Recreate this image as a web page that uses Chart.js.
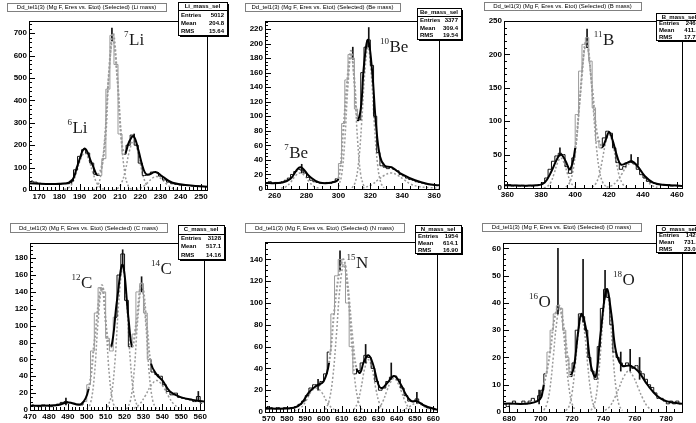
<!DOCTYPE html>
<html>
<head>
<meta charset="utf-8">
<script src="https://cdn.jsdelivr.net/npm/chart.js@4.4.1/dist/chart.umd.min.js"></script>
<style>
  body { margin: 0; background: #fff; width: 696px; height: 423px; position: relative; overflow: hidden; }
  canvas { position: absolute; }
</style>
</head>
<body>
<canvas id="pLi" width="232" height="210" style="left:0;top:0"></canvas>
<canvas id="pBe" width="232" height="210" style="left:232px;top:0"></canvas>
<canvas id="pB" width="232" height="210" style="left:464px;top:0"></canvas>
<canvas id="pC" width="232" height="213" style="left:0;top:210px"></canvas>
<canvas id="pN" width="232" height="213" style="left:232px;top:210px"></canvas>
<canvas id="pO" width="232" height="213" style="left:464px;top:210px"></canvas>
<script>
// ---- Lithium ----
const liLow = 165, liBinWidth = 2;
const liCounts = [40,35,30,28,28,27,28,25,30,28, 40,90,150,180,165,120,70,65,140,450,
                  690,560,250,160,200,245,200,120,65,70, 80,78,62,45,35,28,25,22,20,20, 18,17,15,15];
const liFit = [[165,30],[180,28],[186,40],[189,110],[192.5,185],[196,120],[199,68],[202,160],[204.5,520],[206.5,700],
               [208.5,520],[211,200],[212.5,165],[214.5,215],[216.7,240],[219,180],[221.5,95],[223.5,68],[227.5,80],
               [231,60],[236,32],[245,20],[253,15]];
const li6Fit = [[182.5,2],[184.5,9],[186.5,32],[188.5,79],[190.5,137],[192.5,165],[194.5,137],[196.5,79],[198.5,32],[200.5,9],[202.5,2]];
const li7Fit = [[196.5,0],[198.5,11],[200.5,68],[202.5,242],[204.5,519],[206.5,670],[208.5,519],[210.5,242],[212.5,68],[214.5,11],[216.5,0]];
const li8Fit = [[206.7,0],[208.7,6],[210.7,30],[212.7,90],[214.7,176],[216.7,220],[218.7,176],[220.7,90],[222.7,30],[224.7,6],[226.7,0]];
const li9Fit = [[218,2],[220,8],[222,19],[224,36],[226,53],[228,60],[230,53],[232,36],[234,19],[236,8],[238,2]];
const liErrors = [[206,665,722],[217,235,250],[186,30,45]];
const liLabels = [['6','Li',184,254],['7','Li',212,647]];
const liSelected = [[200,212]];
const liStats = ['Li_mass_sel','Entries','5012','Mean','204.8','RMS','15.64'];

// ---- Beryllium ----
const beLow = 254, beBinWidth = 2;
const beCounts = [8,10,8,9,8,10,12,15,20,24, 27,26,22,16,12,10,9,8,8,9, 8,10,14,35,90,150,185,180,110,95,
                  160,195,205,170,100,50,32,30,28,30, 27,25,20,18,15,13,12,10,9,8, 7,6,6,5];
const beFit = [[254,8],[265,9],[270,14],[276,30],[282,17],[288,9],[296,9],[300,14],[303,80],[306,160],[308,190],
               [310,150],[312,95],[314,110],[316,170],[318.5,205],[321,165],[323.5,90],[326,45],[329,32],[333,30],
               [340,20],[348,12],[356,7],[363,5]];
const be7Fit = [[264,1],[267,3],[270,9],[273,18],[276,22],[279,18],[282,9],[285,3],[288,1]];
const be9Fit = [[300,3],[302,19],[304,67],[306,143],[308,185],[310,143],[312,67],[314,19],[316,3]];
const be10Fit = [[308.5,1.5],[310.5,9],[312.5,34],[314.5,89],[316.5,160],[318.5,195],[320.5,160],[322.5,89],[324.5,34],[326.5,9],[328.5,1.5]];
const beTailFit = [[315,1],[321,6],[325,13],[329,19],[333,22],[337,19],[341,13],[345,7],[351,3],[357,2],[363,1]];
const beErrors = [[319,195,222],[277,22,34],[309,178,195]];
const beLabels = [['7','Be',266,42],['10','Be',326,188]];
const beSelected = [[300,312]];
const beStats = ['Be_mass_sel','Entries','3377','Mean','309.4','RMS','19.54'];

// ---- Boron ----
const bLow = 358, bBinWidth = 2;
const bCounts = [4,5,3,4,3,4,3,4,3,4, 5,8,15,28,40,48,52,50,32,22, 45,110,175,215,225,190,120,70,60,75,
                 85,82,60,38,28,32,38,40,36,28, 20,15,10,8,7,5,5,4,5,3, 4,3];
const bFit = [[358,4],[378,4],[382,8],[386,25],[389,42],[391.5,50],[394,42],[397,28],[400,60],[403,140],[406.5,220],
              [410,150],[413,80],[416,62],[418,72],[420,84],[422,72],[425,45],[427,35],[430,37],[433.5,40],[437,32],
              [441,18],[446,8],[452,5],[463,3]];
const b10Fit = [[381.5,0],[383.5,2],[385.5,8],[387.5,21],[389.5,37],[391.5,45],[393.5,37],[395.5,21],[397.5,8],[399.5,2],[401.5,0]];
const b11Fit = [[394.5,1.5],[396.5,7],[398.5,23],[400.5,62],[402.5,124],[404.5,187],[406.5,215],[408.5,187],[410.5,124],[412.5,62],[414.5,23],[416.5,7],[418.5,1.5]];
const b12Fit = [[410,1],[412,6],[414,18],[416,42],[418,68],[420,80],[422,68],[424,42],[426,18],[428,6],[430,1]];
const b13Fit = [[418.5,1],[421.5,3.5],[424.5,10],[427.5,21],[430.5,33],[433.5,38],[436.5,33],[439.5,21],[442.5,10],[445.5,3.5],[448.5,1]];
const bErrors = [[407,210,238],[391,48,60],[433,38,50],[437,34,46]];
const bLabels = [['11','B',411,214]];
const bSelected = [[399,415]];
const bStats = ['B_mass_sel','Entries','2466','Mean','411.2','RMS','17.73'];

// ---- Carbon ----
const cLow = 470, cBinWidth = 2;
const cCounts = [6,5,4,6,5,4,5,7,9,10, 9,8,7,6,10,30,70,115,145,140, 85,70,110,160,185,130,75,90,140,150,
                 115,60,45,42,40,30,22,18,20,15, 14,13,12,10,16,8];
const cFit = [[470,5],[485,6],[490,9],[497,7],[501,25],[504,80],[508,148],[511,85],[513,75],[516,130],[519,172],
              [522,110],[524,75],[526,100],[529,150],[532,95],[534,55],[537,42],[540,35],[544,22],[550,15],[556,12],[562,10]];
const c12Fit = [[500,1],[502,8],[504,40],[506,105],[508,145],[510,105],[512,40],[514,8],[516,1]];
const c13Fit = [[511,3],[513,17],[515,60],[517,130],[519,168],[521,130],[523,60],[525,17],[527,3]];
const c14Fit = [[521,1],[523,10],[525,44],[527,108],[529,145],[531,108],[533,44],[535,10],[537,1]];
const cTailFit = [[525,2],[528,7],[531,17],[534,29],[537,35],[540,29],[543,17],[546,7],[549,2]];
const cErrors = [[519,170,190],[559,10,22],[489,6,14],[529,140,158]];
const cLabels = [['12','C',492,145],['14','C',534,161]];
const cSelected = [[500,514],[524,533]];
const cStats = ['C_mass_sel','Entries','3128','Mean','517.1','RMS','14.16'];

// ---- Nitrogen ----
const nLow = 568, nBinWidth = 2;
const nCounts = [5,4,3,4,3,4,3,4,5,7, 10,15,22,25,24,28,35,55,90,125, 140,135,100,60,35,38,45,52,50,40,
                 28,20,22,28,32,33,30,22,15,10, 10,12,8,6,4,3,2];
const nFit = [[568,3],[584,4],[588,8],[592,18],[596,24],[600,28],[603,45],[606,95],[609,132],[611,140],[613,120],
              [616,65],[618,40],[620,36],[622,46],[624.5,52],[627,44],[630,25],[632,22],[635,27],[638.5,33],[642,26],
              [645,16],[648,10],[651,10],[655,6],[662,2]];
const n14Fit = [[584,1],[587,3],[590,9],[593,18],[596,22],[599,18],[602,9],[605,3],[608,1]];
const n15Fit = [[601,2],[603,10],[605,31],[607,70],[609,115],[611,135],[613,115],[615,70],[617,31],[619,10],[621,2]];
const n16Fit = [[616.5,2],[618.5,8],[620.5,22],[622.5,40],[624.5,48],[626.5,40],[628.5,22],[630.5,8],[632.5,2]];
const n17Fit = [[628.5,1],[630.5,4],[632.5,10],[634.5,19],[636.5,27],[638.5,31],[640.5,27],[642.5,19],[644.5,10],[646.5,4],[648.5,1]];
const n18Fit = [[643,1],[647,5],[651,8],[655,5],[659,1]];
const nErrors = [[609,130,148],[623,45,62],[637,30,45],[651,8,18],[597,20,30]];
const nLabels = [['15','N',612.5,132]];
const nSelected = [[604,617]];
const nStats = ['N_mass_sel','Entries','1954','Mean','614.1','RMS','16.90'];

// ---- Oxygen ----
const oLow = 676, oBinWidth = 2;
const oCounts = [3,2,3,4,3,3,4,3,4,5, 4,6,8,14,22,30,36,39,38,30, 20,13,18,30,36,35,30,20,15,12,
                 24,38,45,42,32,22,20,18,17,18, 17,16,17,15,14,12,10,9,7,5, 5,4,3,4,3,4,3];
const oFit = [[676,3],[698,4],[702,10],[706,22],[709,35],[712,39],[715,30],[719,14],[721,16],[724,30],[726,36],
              [729,30],[732,17],[735,13],[738,28],[742,45],[745,36],[748,22],[752,17],[757,17],[762,15],[768,10],
              [774,6],[780,4],[790,3]];
const o16Fit = [[702,0.6],[704,3],[706,9],[708,20],[710,32],[712,38],[714,32],[716,20],[718,9],[720,3],[722,0.6]];
const o17Fit = [[716,0.5],[718,2],[720,7],[722,17],[724,29],[726,35],[728,29],[730,17],[732,7],[734,2],[736,0.5]];
const o18Fit = [[732,0.6],[734,2.4],[736,8.6],[738,21],[740,37],[742,44],[744,37],[746,21],[748,8.6],[750,2.4],[752,0.6]];
const oTailFit = [[741,0.6],[744,2],[747,5],[750,9],[753,13],[756,15],[759,13],[762,9],[765,5],[768,2],[771,0.6]];
const oErrors = [[711,36,60],[727,33,56],[741,42,52],[757,15,23],[751,15,22],[699,3,8],[763,12,20]];
const oLabels = [['16','O',692.5,38.6],['18','O',746,46.7]];
const oSelected = [[704,719]];
const oStats = ['O_mass_sel','Entries','1421','Mean','731.3','RMS','23.05'];

const BLACK = '#000';
const GREY = '#9a9a9a';

function inside(ranges, v) {
    return ranges.some(r => v >= r[0] && v <= r[1]);
}

function isMultiple(v, step) {
    return Math.abs(v / step - Math.round(v / step)) < 1e-6;
}

// ROOT-like frame, inward ticks, isotope labels, title and stats boxes
const rootStyle = {
    id: 'rootStyle',
    beforeDraw(chart) {
        const ctx = chart.ctx;
        ctx.save();
        ctx.fillStyle = '#fff';
        ctx.fillRect(0, 0, chart.width, chart.height);
        ctx.restore();
    },
    afterDraw(chart, args, opts) {
        const { ctx, chartArea: a, scales: { x, y } } = chart;
        ctx.save();
        ctx.strokeStyle = BLACK;
        ctx.lineWidth = 1;
        ctx.strokeRect(Math.round(a.left) + 0.5, Math.round(a.top) + 0.5, Math.round(a.right - a.left), Math.round(a.bottom - a.top));

        // ticks
        const drawTicks = (scale, step, sub, horizontal) => {
            const minor = step / sub;
            const first = Math.ceil(scale.min / minor - 1e-9) * minor;
            ctx.beginPath();
            for (let v = first; v <= scale.max + 1e-9; v += minor) {
                const len = isMultiple(v, step) ? 6 : 3;
                const p = Math.round(scale.getPixelForValue(v)) + 0.5;
                if (horizontal) {
                    ctx.moveTo(p, a.bottom);
                    ctx.lineTo(p, a.bottom - len);
                } else {
                    ctx.moveTo(a.left, p);
                    ctx.lineTo(a.left + len, p);
                }
            }
            ctx.stroke();
        };
        drawTicks(x, opts.xStep, opts.xSub, true);
        drawTicks(y, opts.yStep, opts.ySub, false);

        // isotope labels
        ctx.fillStyle = '#1a1a1a';
        ctx.textBaseline = 'alphabetic';
        ctx.textAlign = 'left';
        opts.labels.forEach(([mass, sym, vx, vy]) => {
            const px = x.getPixelForValue(vx);
            const py = y.getPixelForValue(vy);
            ctx.font = '9px "Liberation Serif"';
            ctx.fillText(mass, px, py - 8);
            const w = ctx.measureText(mass).width;
            ctx.font = '17px "Liberation Serif"';
            ctx.fillText(sym, px + w + 0.5, py);
        });

        // title box
        const t = opts.titleBox;
        ctx.fillStyle = '#fff';
        ctx.fillRect(t.x, t.y, t.w, t.h);
        ctx.setLineDash([1, 1]);
        ctx.strokeRect(t.x + 0.5, t.y + 0.5, t.w, t.h);
        ctx.setLineDash([]);
        ctx.fillStyle = BLACK;
        ctx.font = '6px "Liberation Sans"';
        ctx.textAlign = 'center';
        ctx.textBaseline = 'middle';
        ctx.fillText(opts.title, t.x + t.w / 2, t.y + t.h / 2 + 0.5, t.w - 6);

        // stats box
        const s = opts.statBox;
        const rows = opts.stats;
        ctx.fillStyle = '#fff';
        ctx.fillRect(s.x, s.y, s.w, s.h);
        ctx.fillStyle = BLACK;
        ctx.fillRect(s.x + 2, s.y + s.h, s.w, 2);
        ctx.fillRect(s.x + s.w, s.y + 2, 2, s.h);
        ctx.strokeRect(s.x + 0.5, s.y + 0.5, s.w, s.h);
        const rh = s.h / 4;
        ctx.font = 'bold 6px "Liberation Sans"';
        ctx.textBaseline = 'middle';
        ctx.textAlign = 'center';
        ctx.fillText(rows[0], s.x + s.w / 2, s.y + rh / 2 + 0.5);
        ctx.beginPath();
        ctx.moveTo(s.x, Math.round(s.y + rh) + 0.5);
        ctx.lineTo(s.x + s.w, Math.round(s.y + rh) + 0.5);
        ctx.stroke();
        for (let i = 0; i < 3; i++) {
            const ry = s.y + rh * (i + 1.5) + 0.5;
            ctx.textAlign = 'left';
            ctx.fillText(rows[1 + i * 2], s.x + 3, ry);
            ctx.textAlign = 'right';
            ctx.fillText(rows[2 + i * 2], s.x + s.w - 3, ry);
        }
        ctx.restore();
    }
};

function toXY(pairs) {
    return pairs.map(p => ({ x: p[0], y: p[1] }));
}

function makePanel(p) {
    const canvas = document.getElementById(p.id);
    const W = canvas.width, H = canvas.height;
    const f = p.frame;
    const histo = p.counts.map((c, i) => ({ x: p.low + p.binWidth * (i + 0.5), y: c }));
    const selColor = ctx => inside(p.selected, (ctx.p0.parsed.x + ctx.p1.parsed.x) / 2) ? GREY : undefined;
    const selDash = ctx => inside(p.selected, (ctx.p0.parsed.x + ctx.p1.parsed.x) / 2) ? [2, 2] : undefined;

    const datasets = [
        {
            type: 'line', data: toXY(p.fit), borderColor: BLACK, borderWidth: 2,
            tension: 0.4, pointRadius: 0, fill: false,
            segment: { borderColor: selColor, borderDash: selDash }
        },
        {
            type: 'line', data: histo, borderColor: '#111', borderWidth: 1,
            stepped: 'middle', pointRadius: 0, fill: false,
            segment: { borderColor: selColor }
        },
        {
            type: 'bar', data: p.errors.map(e => ({ x: e[0], y: [e[1], e[2]] })),
            backgroundColor: '#111', barThickness: 1, grouped: false
        }
    ];
    p.parts.forEach(part => datasets.push({
        type: 'line', data: toXY(part), borderColor: GREY, borderWidth: 1.5,
        borderDash: [2, 2], tension: 0.4, pointRadius: 0, fill: false
    }));

    const tickFont = { family: 'Liberation Sans', size: 8, weight: 'bold' };
    const keepSteps = step => scale => {
        scale.ticks = scale.ticks.filter(t => isMultiple(t.value, step) && t.value >= scale.min && t.value <= scale.max);
    };

    new Chart(canvas, {
        type: 'line',
        data: { datasets },
        options: {
            responsive: false,
            animation: false,
            devicePixelRatio: 1,
            layout: { padding: { top: f.top, right: W - f.right, left: 0, bottom: 0 } },
            plugins: {
                legend: { display: false },
                tooltip: { enabled: false },
                rootStyle: {
                    xStep: p.xStep, xSub: p.xSub, yStep: p.yStep, ySub: p.ySub,
                    labels: p.labels, titleBox: p.titleBox, statBox: p.statBox,
                    title: p.title, stats: p.stats
                }
            },
            scales: {
                x: {
                    type: 'linear', min: p.xRange[0], max: p.xRange[1], offset: false,
                    grid: { display: false, drawTicks: false },
                    border: { display: false },
                    ticks: {
                        stepSize: p.xStep, includeBounds: false, autoSkip: false,
                        maxRotation: 0, padding: 2, font: tickFont, color: BLACK
                    },
                    afterBuildTicks: keepSteps(p.xStep),
                    afterFit: s => { s.height = H - f.bottom; }
                },
                y: {
                    type: 'linear', min: p.yRange[0], max: p.yRange[1],
                    grid: { display: false, drawTicks: false },
                    border: { display: false },
                    ticks: {
                        stepSize: p.yStep, includeBounds: false, autoSkip: false,
                        padding: 2, font: tickFont, color: BLACK
                    },
                    afterBuildTicks: keepSteps(p.yStep),
                    afterFit: s => { s.width = f.left; }
                }
            }
        },
        plugins: [rootStyle]
    });
}

makePanel({
    id: 'pLi', counts: liCounts, low: liLow, binWidth: liBinWidth, fit: liFit,
    parts: [li6Fit, li7Fit, li8Fit, li9Fit], errors: liErrors, labels: liLabels, selected: liSelected,
    xRange: [165, 253], yRange: [0, 754], xStep: 10, xSub: 5, yStep: 100, ySub: 5,
    frame: { left: 29, top: 21, right: 207, bottom: 190 },
    titleBox: { x: 7, y: 3, w: 159, h: 8 }, statBox: { x: 178, y: 2, w: 49, h: 33 },
    title: 'Dd_tel1(3) (Mg F, Eres vs. Etot) (Selected) (Li mass)', stats: liStats
});
makePanel({
    id: 'pBe', counts: beCounts, low: beLow, binWidth: beBinWidth, fit: beFit,
    parts: [be7Fit, be9Fit, be10Fit, beTailFit], errors: beErrors, labels: beLabels, selected: beSelected,
    xRange: [254, 363], yRange: [0, 231], xStep: 20, xSub: 4, yStep: 20, ySub: 4,
    frame: { left: 33, top: 21, right: 207, bottom: 189 },
    titleBox: { x: 13, y: 3, w: 155, h: 8 }, statBox: { x: 185, y: 8, w: 44, h: 31 },
    title: 'Dd_tel1(3) (Mg F, Eres vs. Etot) (Selected) (Be mass)', stats: beStats
});
makePanel({
    id: 'pB', counts: bCounts, low: bLow, binWidth: bBinWidth, fit: bFit,
    parts: [b10Fit, b11Fit, b12Fit, b13Fit], errors: bErrors, labels: bLabels, selected: bSelected,
    xRange: [358, 463], yRange: [0, 250], xStep: 20, xSub: 4, yStep: 50, ySub: 5,
    frame: { left: 40, top: 21, right: 218, bottom: 188 },
    titleBox: { x: 20, y: 2, w: 157, h: 8 }, statBox: { x: 192, y: 13, w: 46, h: 27 },
    title: 'Dd_tel1(3) (Mg F, Eres vs. Etot) (Selected) (B mass)', stats: bStats
});
makePanel({
    id: 'pC', counts: cCounts, low: cLow, binWidth: cBinWidth, fit: cFit,
    parts: [c12Fit, c13Fit, c14Fit, cTailFit], errors: cErrors, labels: cLabels, selected: cSelected,
    xRange: [470, 562], yRange: [0, 198], xStep: 10, xSub: 5, yStep: 20, ySub: 4,
    frame: { left: 30, top: 33, right: 204, bottom: 200 },
    titleBox: { x: 10, y: 13, w: 157, h: 9 }, statBox: { x: 178, y: 15, w: 46, h: 34 },
    title: 'Dd_tel1(3) (Mg F, Eres vs. Etot) (Selected) (C mass)', stats: cStats
});
makePanel({
    id: 'pN', counts: nCounts, low: nLow, binWidth: nBinWidth, fit: nFit,
    parts: [n14Fit, n15Fit, n16Fit, n17Fit, n18Fit], errors: nErrors, labels: nLabels, selected: nSelected,
    xRange: [568, 662], yRange: [0, 156], xStep: 10, xSub: 5, yStep: 20, ySub: 4,
    frame: { left: 33, top: 32, right: 205, bottom: 202 },
    titleBox: { x: 13, y: 13, w: 159, h: 9 }, statBox: { x: 183, y: 15, w: 46, h: 28 },
    title: 'Dd_tel1(3) (Mg F, Eres vs. Etot) (Selected) (N mass)', stats: nStats
});
makePanel({
    id: 'pO', counts: oCounts, low: oLow, binWidth: oBinWidth, fit: oFit,
    parts: [o16Fit, o17Fit, o18Fit, oTailFit], errors: oErrors, labels: oLabels, selected: oSelected,
    xRange: [676, 790], yRange: [0, 62], xStep: 20, xSub: 4, yStep: 10, ySub: 5,
    frame: { left: 39, top: 33, right: 218, bottom: 202 },
    titleBox: { x: 18, y: 13, w: 159, h: 8 }, statBox: { x: 192, y: 15, w: 46, h: 27 },
    title: 'Dd_tel1(3) (Mg F, Eres vs. Etot) (Selected) (O mass)', stats: oStats
});
</script>
</body>
</html>
